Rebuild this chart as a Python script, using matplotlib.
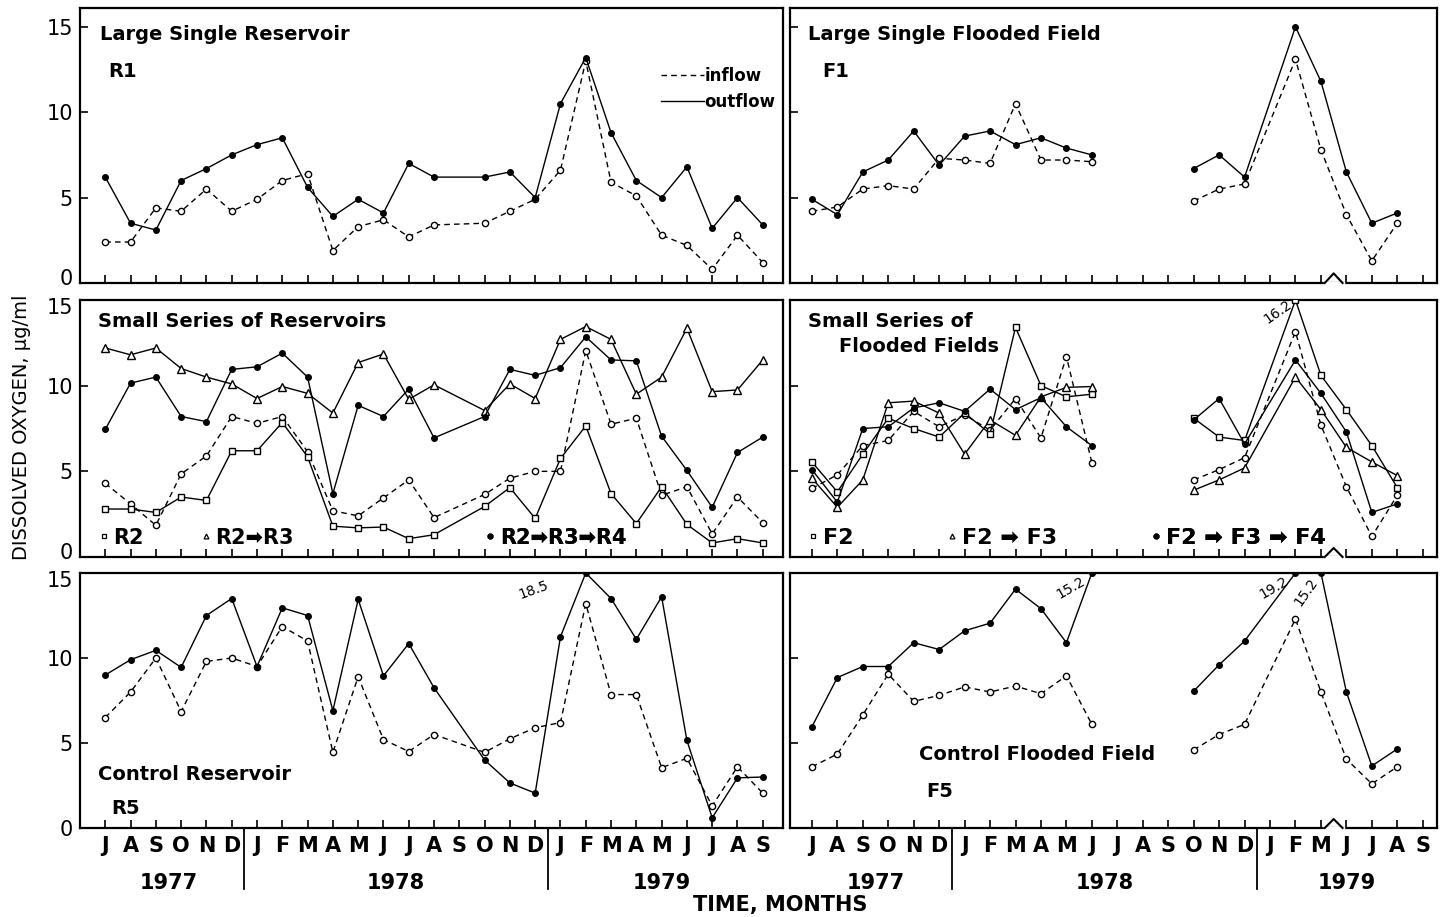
import numpy as np
import matplotlib
matplotlib.use('Agg')
import matplotlib.pyplot as plt
from matplotlib.lines import Line2D
import matplotlib.transforms as mtransforms

FONT = ['DejaVu Sans']
plt.rcParams['font.family'] = FONT

N = None
MONTHS_LEFT = list("JASONDJFMAMJJASONDJFMAMJJAS")
MONTHS_RIGHT = list("JASONDJFMAMJJASONDJFMJJAS")
YEARS = ['1977', '1978', '1979']

# ---- Large single reservoir R1 ----
r1_inflow = [2.4, 2.4, 4.4, 4.2, 5.5, 4.2, 4.9, 6.0, 6.4, 1.9, 3.3, 3.7, 2.7, 3.4, N,
             3.5, 4.2, 4.9, 6.6, 13.0, 5.9, 5.1, 2.8, 2.2, 0.8, 2.8, 1.2]
r1_outflow = [6.2, 3.5, 3.1, 6.0, 6.7, 7.5, 8.1, 8.5, 5.6, 3.9, 4.9, 4.1, 7.0, 6.2, N,
              6.2, 6.5, 5.0, 10.5, 13.2, 8.8, 6.0, 5.0, 6.8, 3.2, 5.0, 3.4]

# ---- Large single flooded field F1 ----
f1_inflow = [4.2, 4.45, 5.5, 5.7, 5.5, 7.3, 7.2, 7.0, 10.5, 7.2, 7.2, 7.1, N, N, N,
             4.8, 5.5, 5.8, N, 13.1, 7.8, 4.0, 1.3, 3.5, N]
f1_outflow = [4.9, 4.0, 6.5, 7.2, 8.9, 6.9, 8.6, 8.9, 8.1, 8.5, 7.9, 7.5, N, N, N,
              6.7, 7.5, 6.2, N, 15.0, 11.8, 6.5, 3.5, 4.1, N]

# ---- Small series of reservoirs ----
r2 = [2.8, 2.8, 2.6, 3.5, 3.3, 6.2, 6.2, 7.85, 5.85, 1.8, 1.7, 1.75, 1.07, 1.3, N,
      2.95, 4.05, 2.25, 5.75, 7.65, 3.7, 1.95, 4.1, 1.9, 0.82, 1.07, 0.82]
r2_r3 = [12.2, 11.8, 12.2, 11.0, 10.5, 10.1, 9.25, 9.95, 9.55, 8.4, 11.35, 11.85, 9.2, 10.05, N,
         8.55, 10.1, 9.25, 12.7, 13.45, 12.7, 9.5, 10.5, 13.35, 9.65, 9.75, 11.5]
r2_r3_r4 = [7.45, 10.15, 10.5, 8.2, 7.9, 10.95, 11.1, 11.9, 10.5, 3.7, 8.85, 8.2, 9.8, 6.95, N,
            8.2, 10.95, 10.6, 11.05, 12.85, 11.5, 11.45, 7.05, 5.05, 2.9, 6.1, 7.0]
r_circles = [4.3, 3.1, 1.85, 4.85, 5.9, 8.2, 7.8, 8.2, 6.15, 2.7, 2.4, 3.45, 4.5, 2.3, N,
             3.65, 4.6, 5.0, 5.0, 12.05, 7.75, 8.1, 3.6, 4.1, 1.35, 3.5, 2.0]

# ---- Small series of flooded fields ----
f2 = [5.55, 3.8, 6.0, 8.1, 7.5, 7.0, 8.4, 7.2, 13.4, 10.0, 9.35, 9.5, N, N, N,
      8.1, 7.0, 6.8, N, 16.2, 10.6, 8.6, 6.5, 4.05, N]
f2_f3 = [4.6, 2.9, 4.5, 9.0, 9.1, 8.4, 6.0, 8.0, 7.1, 9.35, 9.9, 9.95, N, N, N,
         3.9, 4.5, 5.2, N, 10.5, 8.6, 6.4, 5.55, 4.75, N]
f2_f3_f4 = [5.1, 3.2, 7.5, 7.6, 8.7, 9.0, 8.5, 9.8, 8.6, 9.3, 7.6, 6.5, N, N, N,
            8.0, 9.25, 6.6, N, 11.5, 9.55, 7.3, 2.6, 3.1, N]
f_circles = [4.0, 4.8, 6.5, 6.8, 8.5, 7.6, 8.3, 7.4, 9.25, 6.95, 11.7, 5.5, N, N, N,
             4.5, 5.1, 5.8, N, 13.15, 7.7, 4.1, 1.2, 3.6, N]

# ---- Control reservoir R5 ----
r5_inflow = [6.5, 8.0, 10.0, 6.85, 9.8, 10.0, 9.5, 11.85, 11.0, 4.45, 8.9, 5.2, 4.5, 5.5, N,
             4.45, 5.25, 5.9, 6.2, 13.2, 7.85, 7.85, 3.55, 4.1, 1.3, 3.6, 2.05]
r5_outflow = [9.0, 9.9, 10.45, 9.45, 12.5, 13.5, 9.5, 12.95, 12.5, 6.9, 13.45, 8.95, 10.85, 8.25, N,
              4.0, 2.65, 2.05, 11.25, 18.5, 13.5, 11.1, 13.6, 5.15, 0.6, 2.95, 3.0]

# ---- Control flooded field F5 ----
f5_inflow = [3.6, 4.35, 6.65, 9.05, 7.45, 7.8, 8.3, 8.0, 8.35, 7.9, 8.95, 6.1, N, N, N,
             4.6, 5.5, 6.1, N, 12.3, 8.0, 4.05, 2.6, 3.6, N]
f5_outflow = [5.95, 8.85, 9.5, 9.5, 10.9, 10.5, 11.6, 12.05, 14.05, 12.9, 10.9, 15.2, N, N, N,
              8.05, 9.6, 11.0, N, 19.2, 15.2, 8.0, 3.65, 4.65, N]

DASH = (0, (4, 3))

fig = plt.figure(figsize=(14.45, 9.17), dpi=100)
W, H = 1445.0, 917.0


def make_ax(x0, x1, ytop, ybot):
    return fig.add_axes([x0 / W, 1 - ybot / H, (x1 - x0) / W, (ybot - ytop) / H])


rows = [(8, 283, 16.1), (300, 557, 15.0), (573, 828, 15.0)]
axes = []
for ri, (yt, yb, ytopv) in enumerate(rows):
    axl = make_ax(80, 783, yt, yb)
    axr = make_ax(790, 1437, yt, yb)
    axl.set_xlim(-1.0, 26.8)
    axr.set_xlim(-0.86, 24.56)
    for a in (axl, axr):
        a.set_ylim(0, ytopv)
        a.set_yticks([0, 5, 10, 15])
        a.tick_params(direction='in', length=6, width=1.2, top=False, right=False)
        for s in a.spines.values():
            s.set_linewidth(1.6)
    axl.set_xticks(range(len(MONTHS_LEFT)))
    axr.set_xticks(range(len(MONTHS_RIGHT)))
    axl.set_yticklabels(['0', '5', '10', '15'], fontsize=15, family=['DejaVu Sans'])
    axr.set_yticklabels([])
    axl.tick_params(axis='y', pad=5)
    labs = axl.get_yticklabels()
    if ri < 2:
        labs[0].set_transform(labs[0].get_transform() +
                              mtransforms.ScaledTranslation(0, 4 / 72, fig.dpi_scale_trans))
    if ri > 0:
        labs[3].set_transform(labs[3].get_transform() +
                              mtransforms.ScaledTranslation(0, -4 / 72, fig.dpi_scale_trans))
    axes.append((axl, axr))


def draw(ax, vals, ls, marker, filled, ms, segs, cap):
    y = np.array([np.nan if v is None else v for v in vals], dtype=float)
    x = np.arange(len(y))
    yd = np.minimum(y, cap)
    for a, b in segs:
        xs = x[a:b + 1]
        ys = yd[a:b + 1]
        m = ~np.isnan(ys)
        ax.plot(xs[m], ys[m], linestyle=ls, color='k', lw=1.0, marker=marker,
                mfc='k' if filled else 'white', mec='k', ms=ms, mew=1.0, zorder=3)


SEG_L = [(0, 26)]
SEG_R = [(0, 11), (12, 24)]

# Row 1
a, b = axes[0]
draw(a, r1_inflow, DASH, 'o', False, 4.5, SEG_L, 16.0)
draw(a, r1_outflow, '-', 'o', True, 4, SEG_L, 16.0)
draw(b, f1_inflow, DASH, 'o', False, 4.5, SEG_R, 16.0)
draw(b, f1_outflow, '-', 'o', True, 4, SEG_R, 16.0)

tk = dict(fontsize=14, fontweight='bold', family=FONT, ha='left', va='center')
a.text(0.028, 0.905, 'Large Single Reservoir', transform=a.transAxes, **tk)
a.text(0.04, 0.77, 'R1', transform=a.transAxes, **tk)
b.text(0.028, 0.905, 'Large Single Flooded Field', transform=b.transAxes, **tk)
b.text(0.05, 0.77, 'F1', transform=b.transAxes, **tk)
leg = a.legend(handles=[Line2D([], [], color='k', lw=1.0, linestyle=DASH),
                        Line2D([], [], color='k', lw=1.0)],
               labels=['inflow', 'outflow'], loc='upper left',
               bbox_to_anchor=(0.805, 0.84), frameon=False, handlelength=2.6,
               handletextpad=0.0, labelspacing=0.45,
               prop=dict(size=12, weight='bold', family=FONT))

# Row 2
a, b = axes[1]
draw(a, r_circles, DASH, 'o', False, 4.5, SEG_L, 15.0)
draw(a, r2, '-', 's', False, 4.5, SEG_L, 15.0)
draw(a, r2_r3, '-', '^', False, 5.5, SEG_L, 15.0)
draw(a, r2_r3_r4, '-', 'o', True, 4, SEG_L, 15.0)
draw(b, f_circles, DASH, 'o', False, 4.5, SEG_R, 15.0)
draw(b, f2, '-', 's', False, 4.5, SEG_R, 15.0)
draw(b, f2_f3, '-', '^', False, 5.5, SEG_R, 15.0)
draw(b, f2_f3_f4, '-', 'o', True, 4, SEG_R, 15.0)

a.text(0.025, 0.915, 'Small Series of Reservoirs', transform=a.transAxes, **tk)
b.text(0.028, 0.915, 'Small Series of', transform=b.transAxes, **tk)
b.text(0.075, 0.82, 'Flooded Fields', transform=b.transAxes, **tk)


def mini_legend(ax, marker, filled, label, xa, size):
    h = Line2D([], [], linestyle='none', marker=marker, mfc='k' if filled else 'white',
               mec='k', ms=3.5, mew=0.9)
    lg = ax.legend(handles=[h], labels=[label], loc='center left',
                   bbox_to_anchor=(xa, 0.075), frameon=False, handlelength=0.6,
                   handletextpad=0.15, borderpad=0, borderaxespad=0,
                   prop=dict(size=size, weight='bold', family=['DejaVu Sans']))
    ax.add_artist(lg)


ARW = '\u27a1'
mini_legend(a, 's', False, 'R2', 0.025, 15)
mini_legend(a, '^', False, 'R2' + ARW + 'R3', 0.17, 15)
mini_legend(a, 'o', True, 'R2' + ARW + 'R3' + ARW + 'R4', 0.575, 15)
mini_legend(b, 's', False, 'F2', 0.025, 16)
mini_legend(b, '^', False, 'F2 ' + ARW + ' F3', 0.24, 16)
mini_legend(b, 'o', True, 'F2 ' + ARW + ' F3 ' + ARW + ' F4', 0.555, 16)
b.text(18.3, 14.3, '%.1f' % max(v for v in f2 if v is not None), rotation=35,
       fontsize=10, ha='center', va='center', family=FONT)

# Row 3
a, b = axes[2]
draw(a, r5_inflow, DASH, 'o', False, 4.5, SEG_L, 15.0)
draw(a, r5_outflow, '-', 'o', True, 4, SEG_L, 15.0)
draw(b, f5_inflow, DASH, 'o', False, 4.5, SEG_R, 15.0)
draw(b, f5_outflow, '-', 'o', True, 4, SEG_R, 15.0)
a.text(0.025, 0.21, 'Control Reservoir', transform=a.transAxes, **tk)
a.text(0.045, 0.075, 'R5', transform=a.transAxes, **tk)
b.text(0.2, 0.29, 'Control Flooded Field', transform=b.transAxes, **tk)
b.text(0.21, 0.145, 'F5', transform=b.transAxes, **tk)
a.text(17.6, 14.0, '%.1f' % r5_outflow[19], rotation=20, fontsize=10,
       ha='right', va='center', family=FONT)
b.text(10.85, 14.1, '%.1f' % f5_outflow[11], rotation=30, fontsize=10,
       ha='right', va='center', family=FONT)
b.text(18.8, 14.1, '%.1f' % f5_outflow[19], rotation=30, fontsize=10,
       ha='right', va='center', family=FONT)
b.text(20.0, 13.9, '%.1f' % f5_outflow[20], rotation=55, fontsize=10,
       ha='right', va='center', family=FONT)

# x labels for bottom row
for ax, months in ((a, MONTHS_LEFT), (b, MONTHS_RIGHT)):
    ax.set_xticklabels(months, fontsize=15, fontweight='bold', family=FONT)
    ax.tick_params(axis='x', pad=6)
    trans = mtransforms.blended_transform_factory(ax.transData, ax.transAxes)
    for xs in (5.5, 17.5):
        ax.plot([xs, xs], [0, -0.24], color='k', lw=1.3, transform=trans, clip_on=False)
for ax in (axes[0][0], axes[0][1], axes[1][0], axes[1][1]):
    ax.set_xticklabels([])

for ax, centers in ((a, (2.5, 11.5, 22.0)), (b, (2.5, 11.5, 21.0))):
    trans = mtransforms.blended_transform_factory(ax.transData, ax.transAxes)
    for xc, yr in zip(centers, YEARS):
        ax.text(xc, -0.215, yr, transform=trans, ha='center', va='center',
                fontsize=15, fontweight='bold', family=FONT)

# axis break marks on right panels
for _, ax in axes:
    trans = mtransforms.blended_transform_factory(ax.transData, ax.transAxes)
    ax.plot([20.15, 20.85], [0, 0], color='white', lw=2.5, transform=trans,
            clip_on=False, zorder=5)
    ax.plot([20.15, 20.5, 20.85], [0, 0.035, 0], color='k', lw=1.5,
            transform=trans, clip_on=False, zorder=6)

fig.text(0.54, 0.013, 'TIME, MONTHS', ha='center', va='center', fontsize=15,
         fontweight='bold', family=FONT)
fig.text(0.015, 0.534, 'DISSOLVED OXYGEN, \u00b5g/ml', rotation=90, ha='center',
         va='center', fontsize=14, family=['DejaVu Sans'])

fig.savefig('out.png', dpi=100)
